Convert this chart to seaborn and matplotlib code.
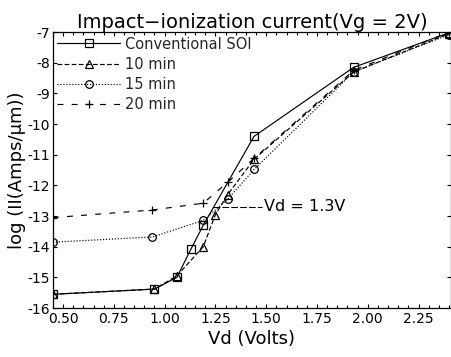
import matplotlib
matplotlib.use("Agg")
import matplotlib.pyplot as plt
import seaborn as sns
import pandas as pd
from matplotlib.ticker import MultipleLocator

sns.set_theme(style="ticks")
plt.rcParams['font.family'] = ['DejaVu Sans']

series_names = ["Conventional SOI", "10 min", "15 min", "20 min"]
vd_conv = [0.45, 0.95, 1.06, 1.13, 1.19, 1.44, 1.93, 2.40]
ii_conv = [-15.55, -15.38, -15.0, -14.07, -13.3, -10.4, -8.15, -7.02]
vd_10 = [0.45, 0.95, 1.06, 1.19, 1.25, 1.31, 1.44, 1.93, 2.40]
ii_10 = [-15.55, -15.38, -14.95, -14.0, -12.95, -12.3, -11.15, -8.3, -7.05]
vd_15 = [0.45, 0.94, 1.19, 1.31, 1.44, 1.93, 2.40]
ii_15 = [-13.85, -13.68, -13.14, -12.45, -11.48, -8.3, -7.08]
vd_20 = [0.45, 0.94, 1.19, 1.31, 1.44, 1.93, 2.40]
ii_20 = [-13.05, -12.8, -12.58, -11.9, -11.12, -8.25, -7.0]

x_ticks = [0.50, 0.75, 1.00, 1.25, 1.50, 1.75, 2.00, 2.25]
y_ticks = [-7, -8, -9, -10, -11, -12, -13, -14, -15, -16]

data = [(vd_conv, ii_conv), (vd_10, ii_10), (vd_15, ii_15), (vd_20, ii_20)]
styles = [
    dict(linestyle="-", marker="s"),
    dict(linestyle=(0, (4, 2)), marker="^"),
    dict(linestyle=(0, (1, 1.5)), marker="o"),
    dict(linestyle=(0, (5, 7)), marker="+"),
]

fig = plt.figure(figsize=(4.52, 3.57), dpi=100)
ax = fig.add_axes([0.117, 0.137, 0.881, 0.773])

for name, (xs, ys), st in zip(series_names, data, styles):
    df = pd.DataFrame({"Vd": xs, "I": ys})
    mfc = "none" if st["marker"] != "+" else "black"
    sns.lineplot(data=df, x="Vd", y="I", ax=ax, color="black", lw=0.85,
                 linestyle=st["linestyle"], marker=st["marker"], markersize=5.5,
                 markerfacecolor=mfc, markeredgecolor="black", markeredgewidth=0.9,
                 label=name, sort=False)

ax.set_xlim(0.45, 2.41)
ax.set_ylim(-16, -7)
ax.set_xticks(x_ticks)
ax.set_xticklabels([f"{v:.2f}" for v in x_ticks])
ax.set_yticks(y_ticks)
ax.set_yticklabels([str(v) for v in y_ticks])
ax.xaxis.set_minor_locator(MultipleLocator(0.05))
ax.tick_params(axis="both", which="both", direction="in", top=True, right=True,
               colors="black", labelsize=10, length=3, width=0.8)
ax.tick_params(which="minor", length=2)
ax.tick_params(axis="x", pad=3)
ax.tick_params(axis="y", pad=2)
for s in ax.spines.values():
    s.set_color("black")
    s.set_linewidth(0.9)

ax.set_xlabel("Vd (Volts)", fontsize=13, color="black", labelpad=3)
ax.set_ylabel("log (II(Amps/μm))", fontsize=13, color="black", labelpad=1)
ax.set_title("Impact\u2212ionization current(Vg = 2V)", fontsize=14, color="black", pad=3)

ax.plot([1.24, 1.48], [-12.7, -12.7], color="black", lw=0.8, linestyle=(0, (6, 2)))
ax.text(1.49, -12.7, "Vd = 1.3V", fontsize=11.5, va="center", ha="left", color="black")

leg = ax.legend(loc="upper left", frameon=False, fontsize=10.5, handlelength=4.3,
                handletextpad=0.35, labelspacing=0.36, borderaxespad=0.1,
                borderpad=0.2, bbox_to_anchor=(0.0, 1.0))

fig.savefig("out.png", dpi=100, facecolor="white")
